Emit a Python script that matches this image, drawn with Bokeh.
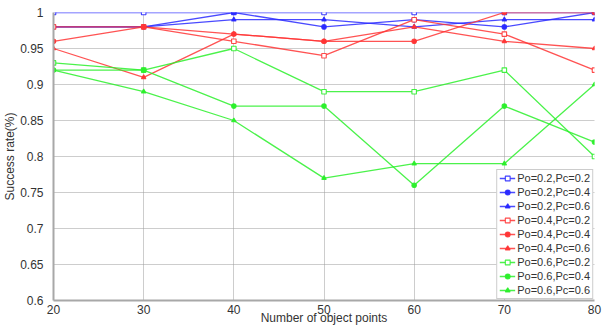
from bokeh.plotting import figure
from bokeh.models import FixedTicker, Legend, LegendItem, Range1d
from bokeh.embed import file_html
from bokeh.resources import INLINE

x = [20, 30, 40, 50, 60, 70, 80]

po2_pc2 = [1.00, 1.00, 1.00, 1.00, 1.00, 1.00, 1.00]
po2_pc4 = [0.98, 0.98, 1.00, 0.98, 0.99, 0.98, 1.00]
po2_pc6 = [0.98, 0.98, 0.99, 0.99, 0.98, 0.99, 0.99]
po4_pc2 = [0.98, 0.98, 0.96, 0.94, 0.99, 0.97, 0.92]
po4_pc4 = [0.96, 0.98, 0.97, 0.96, 0.96, 1.00, 1.00]
po4_pc6 = [0.95, 0.91, 0.97, 0.96, 0.98, 0.96, 0.95]
po6_pc2 = [0.93, 0.92, 0.95, 0.89, 0.89, 0.92, 0.80]
po6_pc4 = [0.92, 0.92, 0.87, 0.87, 0.76, 0.87, 0.82]
po6_pc6 = [0.92, 0.89, 0.85, 0.77, 0.79, 0.79, 0.90]

labels = ["Po=0.2,Pc=0.2", "Po=0.2,Pc=0.4", "Po=0.2,Pc=0.6",
          "Po=0.4,Pc=0.2", "Po=0.4,Pc=0.4", "Po=0.4,Pc=0.6",
          "Po=0.6,Pc=0.2", "Po=0.6,Pc=0.4", "Po=0.6,Pc=0.6"]
series = [po2_pc2, po2_pc4, po2_pc6, po4_pc2, po4_pc4, po4_pc6, po6_pc2, po6_pc4, po6_pc6]

x_ticks = [20, 30, 40, 50, 60, 70, 80]
y_ticks = [0.6, 0.65, 0.7, 0.75, 0.8, 0.85, 0.9, 0.95, 1.0]
y_tick_labels = ["0.6", "0.65", "0.7", "0.75", "0.8", "0.85", "0.9", "0.95", "1"]

colors = ["#2a2aff"] * 3 + ["#ff3535"] * 3 + ["#2cf02c"] * 3
markers = ["square", "circle", "triangle"] * 3

FONT = "Liberation Sans"
TXT = "#333333"

p = figure(width=605, height=327, output_backend="svg", toolbar_location=None,
           x_range=Range1d(20, 80), y_range=Range1d(0.6, 1.0),
           min_border_left=53, min_border_right=11, min_border_top=12, min_border_bottom=27)
p.outline_line_color = None

items = []
for ys, lab, c, m in zip(series, labels, colors, markers):
    r1 = p.line(x, ys, line_color=c, line_width=1.3, line_alpha=0.85)
    r2 = p.scatter(x, ys, marker=m, size=4.5, line_color=c, fill_color=c if m != "square" else "white",
                   line_width=1.1, line_alpha=0.9)
    items.append(LegendItem(label=lab, renderers=[r1, r2]))

legend = Legend(items=items, location="bottom_right", margin=1, padding=2, spacing=2,
                glyph_height=12, glyph_width=16, label_standoff=2,
                label_text_font=FONT, label_text_font_size="11px", label_text_color=TXT,
                border_line_color="#999999", border_line_width=1.5,
                background_fill_color="white", background_fill_alpha=1.0)
p.add_layout(legend)

p.xaxis.ticker = FixedTicker(ticks=x_ticks)
p.yaxis.ticker = FixedTicker(ticks=y_ticks)
p.yaxis.major_label_overrides = {t: l for t, l in zip(y_ticks, y_tick_labels)}

for ax in (p.xaxis, p.yaxis):
    ax.axis_line_color = "#a8a8a8"
    ax.axis_line_width = 2
    ax.major_tick_line_color = None
    ax.minor_tick_line_color = None
    ax.major_label_text_font = FONT
    ax.major_label_text_font_size = "12px"
    ax.major_label_text_color = TXT
    ax.axis_label_text_font = FONT
    ax.axis_label_text_font_size = "12px"
    ax.axis_label_text_font_style = "normal"
    ax.axis_label_text_color = TXT

p.xaxis.axis_label = "Number of object points"
p.yaxis.axis_label = "Success rate(%)"
p.xaxis.major_label_standoff = -2
p.xaxis.axis_label_standoff = -6
p.yaxis.major_label_standoff = 4
p.yaxis.axis_label_standoff = 0

for g in (p.xgrid, p.ygrid):
    g.grid_line_color = "#9a9a9a"
    g.grid_line_dash = "1 1"
    g.grid_line_width = 1

p.background_fill_color = "white"
p.border_fill_color = "white"

open("out.html", "w").write(file_html(p, INLINE))
